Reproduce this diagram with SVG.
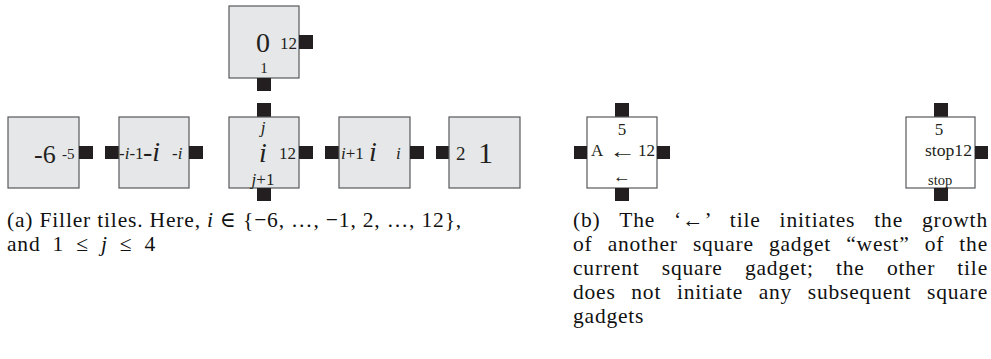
<svg xmlns="http://www.w3.org/2000/svg" width="991" height="359" viewBox="0 0 991 359">
<style>
.t{fill:#e6e7e8;stroke:#58595b;stroke-width:1.2}
.w{fill:#fff;stroke:#58595b;stroke-width:1.2}
.g{fill:#231f20}
text{font-family:"Liberation Serif","DejaVu Serif",serif;fill:#231f20}
.it{font-style:italic}
.c{fill:#111;letter-spacing:0.8px}
</style>
<rect width="991" height="359" fill="#fff"/>
<g id="tile-0">
<rect class="t" x="229" y="6" width="70" height="72"/>
<rect class="g" x="299" y="35" width="14" height="14"/>
<rect class="g" x="257" y="78" width="14" height="13"/>
<text font-size="28" x="263" y="52" text-anchor="middle">0</text>
<text font-size="17" x="297" y="49" text-anchor="end">12</text>
<text font-size="15" x="264" y="73" text-anchor="middle">1</text>
</g>
<g id="tile-neg6">
<rect class="t" x="8" y="117" width="71" height="71"/>
<rect class="g" x="79" y="146" width="14" height="13"/>
<text font-size="26" x="34" y="163">-6</text>
<text font-size="15" x="62" y="159">-5</text>
</g>
<g id="tile-negi">
<rect class="g" x="105" y="146" width="14" height="13"/>
<rect class="t" x="119" y="117" width="70" height="71"/>
<rect class="g" x="189" y="146" width="14" height="13"/>
<text font-size="17" x="119" y="159">-<tspan class="it">i</tspan>-1</text>
<text font-size="28" x="143" y="161">-<tspan class="it">i</tspan></text>
<text font-size="17" x="172" y="159">-<tspan class="it">i</tspan></text>
</g>
<g id="tile-i">
<rect class="g" x="257" y="103" width="14" height="14"/>
<rect class="t" x="229" y="117" width="70" height="71"/>
<rect class="g" x="299" y="146" width="14" height="13"/>
<rect class="g" x="257" y="188" width="14" height="13"/>
<text font-size="17" class="it" x="263" y="133" text-anchor="middle">j</text>
<text font-size="28" class="it" x="263" y="162" text-anchor="middle">i</text>
<text font-size="17" x="296" y="159" text-anchor="end">12</text>
<text font-size="17" x="263" y="185" text-anchor="middle"><tspan class="it">j</tspan>+1</text>
</g>
<g id="tile-iplus1">
<rect class="g" x="325" y="146" width="14" height="13"/>
<rect class="t" x="339" y="117" width="71" height="71"/>
<rect class="g" x="410" y="146" width="14" height="13"/>
<text font-size="17" x="341" y="159"><tspan class="it">i</tspan>+1</text>
<text font-size="28" class="it" x="369" y="161">i</text>
<text font-size="17" class="it" x="396" y="159">i</text>
</g>
<g id="tile-1">
<rect class="g" x="436" y="146" width="13" height="13"/>
<rect class="t" x="449" y="117" width="71" height="71"/>
<text font-size="19" x="456" y="160">2</text>
<text font-size="30" x="478" y="163">1</text>
</g>
<g id="tile-arrow">
<rect class="g" x="615" y="103" width="14" height="14"/>
<rect class="w" x="587" y="117" width="70" height="71"/>
<rect class="g" x="574" y="146" width="13" height="13"/>
<rect class="g" x="657" y="146" width="13" height="13"/>
<rect class="g" x="615" y="188" width="14" height="13"/>
<text font-size="17" x="622" y="135" text-anchor="middle">5</text>
<text font-size="17" x="591" y="156">A</text>
<text font-size="20" x="609" y="158" textLength="27" lengthAdjust="spacingAndGlyphs">←</text>
<text font-size="17" x="638" y="156">12</text>
<text font-size="17" x="613" y="182" textLength="18" lengthAdjust="spacingAndGlyphs">←</text>
</g>
<g id="tile-stop">
<rect class="g" x="934" y="103" width="14" height="14"/>
<rect class="w" x="906" y="117" width="69" height="71"/>
<rect class="g" x="975" y="146" width="13" height="13"/>
<rect class="g" x="934" y="188" width="14" height="13"/>
<text font-size="17" x="939" y="135" text-anchor="middle">5</text>
<text font-size="17" x="925" y="156" textLength="47" lengthAdjust="spacingAndGlyphs">stop12</text>
<text font-size="14.5" x="928" y="185">stop</text>
</g>
<g id="connectors"></g>
<g id="captions" font-size="21.5">
<text class="c" x="7" y="227" textLength="455" lengthAdjust="spacing">(a) Filler tiles.  Here, <tspan class="it">i</tspan> ∈ {−6, …, −1, 2, …, 12},</text>
<text class="c" x="7" y="251" word-spacing="5.9" textLength="149" lengthAdjust="spacing">and 1 ≤ <tspan class="it">j</tspan> ≤ 4</text>
<text class="c" x="573" y="227" word-spacing="12.7" textLength="415" lengthAdjust="spacing">(b) The ‘←’ tile initiates the growth</text>
<text class="c" x="573" y="251" word-spacing="9" textLength="415" lengthAdjust="spacing">of another square gadget “west” of the</text>
<text class="c" x="573" y="275" word-spacing="16" textLength="415" lengthAdjust="spacing">current square gadget; the other tile</text>
<text class="c" x="573" y="299" word-spacing="9.5" textLength="415" lengthAdjust="spacing">does not initiate any subsequent square</text>
<text class="c" x="573" y="323">gadgets</text>
</g>
</svg>
